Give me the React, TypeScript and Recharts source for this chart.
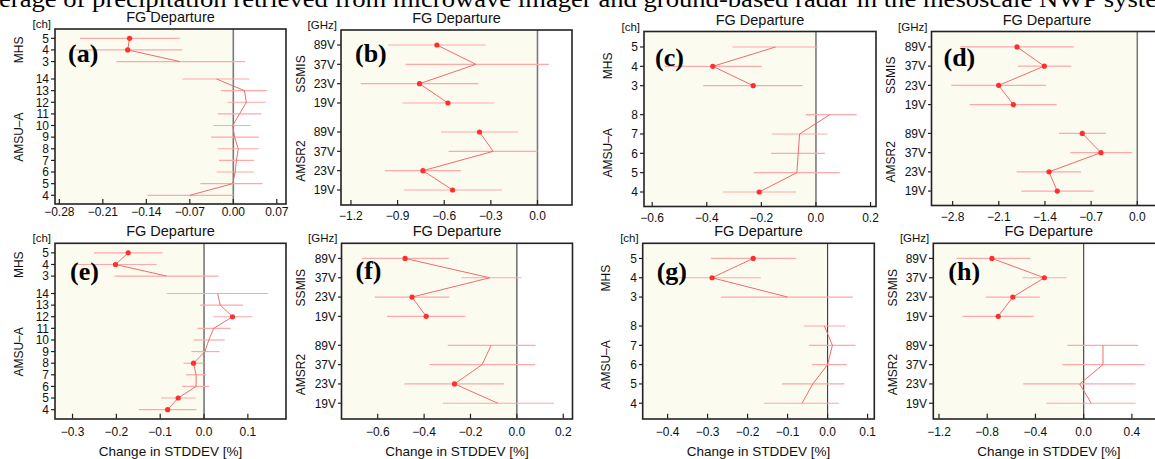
import React from 'react';
import { ScatterChart, Scatter, XAxis, YAxis, ErrorBar, ReferenceArea, ReferenceLine } from 'recharts';

const SANS = '"Liberation Sans", Arial, Helvetica, sans-serif';
const SERIF = '"Liberation Serif", "Times New Roman", serif';

const PAGE_TITLE = 'erage of precipitation retrieved from microwave imager and ground-based radar in the mesoscale NWP syste';
const PANEL_TITLE = 'FG Departure';
const X_LABEL = 'Change in STDDEV [%]';

// channel / frequency labels (top-to-bottom order as displayed)
const MHS_CH = ['5', '4', '3'];
const AMSUA_CH_ALL = ['14', '13', '12', '11', '10', '9', '8', '7', '6', '5', '4'];
const AMSUA_CH_LOW = ['8', '7', '6', '5', '4'];
const MW_FREQ = ['89V', '37V', '23V', '19V'];

// ---- (a) ----
const aMhsVal = [-0.167, -0.17, -0.086];
const aMhsLo = [-0.247, -0.255, -0.188];
const aMhsHi = [-0.086, -0.082, 0.019];
const aMhsSig = [1, 1, 0];
const aAmsuVal = [-0.027, 0.018, 0.021, 0.01, -0.001, 0.002, 0.008, 0.005, 0.003, -0.001, -0.07];
const aAmsuLo = [-0.082, -0.02, -0.009, -0.025, -0.032, -0.036, -0.025, -0.023, -0.027, -0.053, -0.138];
const aAmsuHi = [0.026, 0.054, 0.052, 0.045, 0.028, 0.041, 0.041, 0.033, 0.033, 0.047, 0.0];
const aAmsuSig = [0, 0, 0, 0, 0, 0, 0, 0, 0, 0, 0];
const aTicks = [-0.28, -0.21, -0.14, -0.07, 0, 0.07];

// ---- (b) ----
const bSsmisVal = [-0.647, -0.396, -0.759, -0.576];
const bSsmisLo = [-0.96, -0.849, -1.136, -0.868];
const bSsmisHi = [-0.334, 0.073, -0.379, -0.281];
const bSsmisSig = [1, 0, 1, 1];
const bAmsr2Val = [-0.373, -0.285, -0.737, -0.546];
const bAmsr2Lo = [-0.621, -0.572, -0.981, -0.859];
const bAmsr2Hi = [-0.124, 0.0, -0.493, -0.227];
const bAmsr2Sig = [1, 0, 1, 1];
const bTicks = [-1.2, -0.9, -0.6, -0.3, 0];

// ---- (c) ----
const cMhsVal = [-0.148, -0.378, -0.23];
const cMhsLo = [-0.306, -0.554, -0.413];
const cMhsHi = [0.007, -0.198, -0.049];
const cMhsSig = [0, 1, 1];
const cAmsuVal = [0.051, -0.06, -0.065, -0.07, -0.208];
const cAmsuLo = [-0.037, -0.161, -0.164, -0.227, -0.342];
const cAmsuHi = [0.149, 0.042, 0.033, 0.087, -0.073];
const cAmsuSig = [0, 0, 0, 0, 1];
const cTicks = [-0.6, -0.4, -0.2, 0, 0.2];

// ---- (d) ----
const dSsmisVal = [-1.824, -1.41, -2.102, -1.88];
const dSsmisLo = [-2.683, -1.809, -2.82, -2.542];
const dSsmisHi = [-0.965, -1.0, -1.385, -1.223];
const dSsmisSig = [1, 1, 1, 1];
const dAmsr2Val = [-0.834, -0.551, -1.339, -1.213];
const dAmsr2Lo = [-1.187, -1.016, -1.829, -1.758];
const dAmsr2Hi = [-0.475, -0.081, -0.854, -0.662];
const dAmsr2Sig = [1, 1, 1, 1];
const dTicks = [-2.8, -2.1, -1.4, -0.7, 0];

// ---- (e) ----
const eMhsVal = [-0.173, -0.202, -0.085];
const eMhsLo = [-0.251, -0.293, -0.204];
const eMhsHi = [-0.095, -0.108, 0.033];
const eMhsSig = [1, 1, 0];
const eAmsuVal = [0.031, 0.037, 0.065, 0.022, 0.011, 0.002, -0.024, -0.018, -0.018, -0.059, -0.083];
const eAmsuLo = [-0.085, -0.009, 0.021, -0.015, -0.024, -0.029, -0.047, -0.041, -0.05, -0.098, -0.149];
const eAmsuHi = [0.146, 0.089, 0.11, 0.061, 0.047, 0.035, -0.001, 0.005, 0.012, -0.019, -0.017];
const eAmsuSig = [0, 0, 1, 0, 0, 0, 1, 0, 0, 1, 1];
const eTicks = [-0.3, -0.2, -0.1, 0, 0.1];

// ---- (f) ----
const fSsmisVal = [-0.482, -0.117, -0.452, -0.391];
const fSsmisLo = [-0.668, -0.239, -0.613, -0.56];
const fSsmisHi = [-0.294, 0.02, -0.291, -0.222];
const fSsmisSig = [1, 0, 1, 1];
const fAmsr2Val = [-0.111, -0.15, -0.269, -0.082];
const fAmsr2Lo = [-0.298, -0.377, -0.485, -0.319];
const fAmsr2Hi = [0.081, 0.079, -0.055, 0.16];
const fAmsr2Sig = [0, 0, 1, 0];
const fTicks = [-0.6, -0.4, -0.2, 0, 0.2];

// ---- (g) ----
const gMhsVal = [-0.186, -0.289, -0.1];
const gMhsLo = [-0.292, -0.387, -0.266];
const gMhsHi = [-0.079, -0.167, 0.063];
const gMhsSig = [1, 1, 0];
const gAmsuVal = [-0.008, 0.012, 0.0, -0.037, -0.064];
const gAmsuLo = [-0.059, -0.046, -0.039, -0.114, -0.159];
const gAmsuHi = [0.044, 0.07, 0.048, 0.042, 0.029];
const gAmsuSig = [0, 0, 0, 0, 0];
const gTicks = [-0.4, -0.3, -0.2, -0.1, 0, 0.1];

// ---- (h) ----
const hSsmisVal = [-0.761, -0.326, -0.588, -0.709];
const hSsmisLo = [-1.054, -0.508, -0.811, -1.004];
const hSsmisHi = [-0.441, -0.141, -0.364, -0.414];
const hSsmisSig = [1, 1, 1, 1];
const hAmsr2Val = [0.16, 0.16, -0.033, 0.063];
const hAmsr2Lo = [-0.135, -0.177, -0.502, -0.309];
const hAmsr2Hi = [0.452, 0.505, 0.43, 0.43];
const hAmsr2Sig = [0, 0, 0, 0];
const hTicks = [-1.2, -0.8, -0.4, 0, 0.4];

type Group = { name: string; labels: string[]; val: number[]; lo: number[]; hi: number[]; sig: number[] };
type Panel = {
  id: string;
  unit: string;
  groups: Group[];
  frame: { l: number; t: number; w: number; h: number };
  xDomain: [number, number];
  xTicks: number[];
  decimals: number;
  yPad: [number, number];
  tickDy: number;
  letter: [number, number];
  groupDx: number;
  bottom: boolean;
};

const PANELS: Panel[] = [
  {
    id: 'a', unit: '[ch]',
    groups: [
      { name: 'MHS', labels: MHS_CH, val: aMhsVal, lo: aMhsLo, hi: aMhsHi, sig: aMhsSig },
      { name: 'AMSU–A', labels: AMSUA_CH_ALL, val: aAmsuVal, lo: aAmsuLo, hi: aAmsuHi, sig: aAmsuSig },
    ],
    frame: { l: 55, t: 29, w: 231, h: 175 }, xDomain: [-0.287, 0.0848], xTicks: aTicks, decimals: 2,
    yPad: [0.75, 0.8], tickDy: 12, letter: [13, 33], groupDx: 37, bottom: false,
  },
  {
    id: 'b', unit: '[GHz]',
    groups: [
      { name: 'SSMIS', labels: MW_FREQ, val: bSsmisVal, lo: bSsmisLo, hi: bSsmisHi, sig: bSsmisSig },
      { name: 'AMSR2', labels: MW_FREQ, val: bAmsr2Val, lo: bAmsr2Lo, hi: bAmsr2Hi, sig: bAmsr2Sig },
    ],
    frame: { l: 341, t: 30, w: 231, h: 175 }, xDomain: [-1.264, 0.222], xTicks: bTicks, decimals: 1,
    yPad: [0.776, 0.776], tickDy: 15, letter: [14, 32], groupDx: 41, bottom: false,
  },
  {
    id: 'c', unit: '[ch]',
    groups: [
      { name: 'MHS', labels: MHS_CH, val: cMhsVal, lo: cMhsLo, hi: cMhsHi, sig: cMhsSig },
      { name: 'AMSU–A', labels: AMSUA_CH_LOW, val: cAmsuVal, lo: cAmsuLo, hi: cAmsuHi, sig: cAmsuSig },
    ],
    frame: { l: 644, t: 31.5, w: 232, h: 175 }, xDomain: [-0.63, 0.22], xTicks: cTicks, decimals: 1,
    yPad: [0.776, 0.776], tickDy: 14.5, letter: [11, 34], groupDx: 37, bottom: false,
  },
  {
    id: 'd', unit: '[GHz]',
    groups: [
      { name: 'SSMIS', labels: MW_FREQ, val: dSsmisVal, lo: dSsmisLo, hi: dSsmisHi, sig: dSsmisSig },
      { name: 'AMSR2', labels: MW_FREQ, val: dAmsr2Val, lo: dAmsr2Lo, hi: dAmsr2Hi, sig: dAmsr2Sig },
    ],
    frame: { l: 931.5, t: 31.5, w: 231, h: 174 }, xDomain: [-3.113, 0.39], xTicks: dTicks, decimals: 1,
    yPad: [0.776, 0.776], tickDy: 15, letter: [12, 34], groupDx: 41, bottom: false,
  },
  {
    id: 'e', unit: '[ch]',
    groups: [
      { name: 'MHS', labels: MHS_CH, val: eMhsVal, lo: eMhsLo, hi: eMhsHi, sig: eMhsSig },
      { name: 'AMSU–A', labels: AMSUA_CH_ALL, val: eAmsuVal, lo: eAmsuLo, hi: eAmsuHi, sig: eAmsuSig },
    ],
    frame: { l: 55, t: 243.3, w: 231, h: 175.7 }, xDomain: [-0.34, 0.187], xTicks: eTicks, decimals: 1,
    yPad: [0.78, 0.85], tickDy: 17, letter: [15, 37], groupDx: 37, bottom: true,
  },
  {
    id: 'f', unit: '[GHz]',
    groups: [
      { name: 'SSMIS', labels: MW_FREQ, val: fSsmisVal, lo: fSsmisLo, hi: fSsmisHi, sig: fSsmisSig },
      { name: 'AMSR2', labels: MW_FREQ, val: fAmsr2Val, lo: fAmsr2Lo, hi: fAmsr2Hi, sig: fAmsr2Sig },
    ],
    frame: { l: 341.5, t: 243.3, w: 231, h: 175.7 }, xDomain: [-0.754, 0.242], xTicks: fTicks, decimals: 1,
    yPad: [0.8, 0.8], tickDy: 17, letter: [14, 36], groupDx: 41, bottom: true,
  },
  {
    id: 'g', unit: '[ch]',
    groups: [
      { name: 'MHS', labels: MHS_CH, val: gMhsVal, lo: gMhsLo, hi: gMhsHi, sig: gMhsSig },
      { name: 'AMSU–A', labels: AMSUA_CH_LOW, val: gAmsuVal, lo: gAmsuLo, hi: gAmsuHi, sig: gAmsuSig },
    ],
    frame: { l: 642.7, t: 243.3, w: 231.6, h: 175.7 }, xDomain: [-0.4615, 0.1175], xTicks: gTicks, decimals: 1,
    yPad: [0.8, 0.8], tickDy: 17, letter: [14, 37], groupDx: 37, bottom: true,
  },
  {
    id: 'h', unit: '[GHz]',
    groups: [
      { name: 'SSMIS', labels: MW_FREQ, val: hSsmisVal, lo: hSsmisLo, hi: hSsmisHi, sig: hSsmisSig },
      { name: 'AMSR2', labels: MW_FREQ, val: hAmsr2Val, lo: hAmsr2Lo, hi: hAmsr2Hi, sig: hAmsr2Sig },
    ],
    frame: { l: 933.3, t: 243.3, w: 231, h: 175.7 }, xDomain: [-1.2496, 0.666], xTicks: hTicks, decimals: 1,
    yPad: [0.8, 0.8], tickDy: 17, letter: [15, 37], groupDx: 41, bottom: true,
  },
];

type Row = { label: string; x: number; y: number; ex: [number, number]; sig: number };

function layout(groups: Group[]) {
  let pos = 0;
  const out: { name: string; rows: Row[]; center: number }[] = [];
  for (let gi = groups.length - 1; gi >= 0; gi--) {
    const g = groups[gi];
    const n = g.labels.length;
    const rows: Row[] = g.labels.map((lab, i) => ({
      label: lab,
      y: pos + (n - 1 - i),
      x: g.val[i],
      ex: [g.val[i] - g.lo[i], g.hi[i] - g.val[i]],
      sig: g.sig[i],
    }));
    out.unshift({ name: g.name, rows, center: pos + (n - 1) / 2 });
    pos += n - 1 + 1.5;
  }
  return out;
}

const fmtTick = (v: number, d: number) => (v < -1e-9 ? '\u2212' : '') + Math.abs(v).toFixed(d);

const Empty = () => <g />;
const Dot = (props: any) => <circle cx={props.cx} cy={props.cy} r={2.6} fill="#ff2f2f" />;

const YW = 48;
const XH = 34;
const MR = 24;

function PanelChart({ p }: { p: Panel }) {
  const groups = layout(p.groups);
  const rows = groups.flatMap((g) => g.rows);
  const maxY = Math.max(...rows.map((r) => r.y));
  const yDomain: [number, number] = [-p.yPad[0], maxY + p.yPad[1]];
  const labelMap = new Map(rows.map((r) => [r.y.toFixed(2), r.label]));
  const { l, t, w, h } = p.frame;
  const zeroStroke = p.bottom ? '#3a3a3a' : '#7a7a7a';
  const zeroWidth = p.bottom ? 1.1 : 1.6;
  return (
    <div style={{ position: 'absolute', left: l - YW, top: t, width: w + YW + MR, height: h + XH }}>
      <ScatterChart width={w + YW + MR} height={h + XH} margin={{ top: 0, right: MR, bottom: 0, left: 0 }}>
        <XAxis
          type="number"
          dataKey="x"
          domain={p.xDomain}
          allowDataOverflow
          ticks={p.xTicks}
          interval={0}
          height={XH}
          axisLine={false}
          tickLine={false}
          tickSize={0}
          tickMargin={0}
          tick={(tp: any) => (
            <g>
              <line x1={tp.x} x2={tp.x} y1={tp.y} y2={tp.y - 5} stroke="#222" strokeWidth={1.2} />
              <text x={tp.x} y={tp.y + p.tickDy} textAnchor="middle" fontSize={12} fontFamily={SANS} fill="#111">
                {fmtTick(tp.payload.value, p.decimals)}
              </text>
            </g>
          )}
        />
        <YAxis
          type="number"
          dataKey="y"
          domain={yDomain}
          allowDataOverflow
          ticks={rows.map((r) => r.y)}
          interval={0}
          width={YW}
          axisLine={false}
          tickLine={{ stroke: '#222', strokeWidth: 1.2 }}
          tickSize={4}
          tickMargin={2}
          tickFormatter={(v: number) => labelMap.get(Number(v).toFixed(2)) ?? ''}
          tick={{ fontSize: 12, fill: '#111', fontFamily: SANS }}
        />
        <ReferenceArea x1={p.xDomain[0]} x2={0} fill="#fcfbf0" fillOpacity={1} stroke="none" />
        <ReferenceLine x={0} stroke={zeroStroke} strokeWidth={zeroWidth} />
        <Scatter data={rows} shape={Empty} isAnimationActive={false}>
          <ErrorBar dataKey="ex" direction="x" width={0} stroke="#ffa8a8" strokeWidth={1.2} />
        </Scatter>
        {groups.map((g) => (
          <Scatter
            key={g.name}
            data={g.rows}
            line={{ stroke: '#f26a6a', strokeWidth: 1 }}
            shape={Empty}
            isAnimationActive={false}
          />
        ))}
        <Scatter data={rows.filter((r) => r.sig)} shape={Dot} isAnimationActive={false} />
      </ScatterChart>
    </div>
  );
}

function Overlay() {
  return (
    <svg width={1155} height={459} style={{ position: 'absolute', left: 0, top: 0, pointerEvents: 'none' }}>
      <text x={-1} y={6.5} fontSize={24} fontFamily={SERIF} fill="#000" textLength={1158} lengthAdjust="spacingAndGlyphs">
        {PAGE_TITLE}
      </text>
      {PANELS.map((p) => {
        const { l, t, w, h } = p.frame;
        const groups = layout(p.groups);
        const maxY = Math.max(...groups.flatMap((g) => g.rows.map((r) => r.y)));
        const y0 = -p.yPad[0];
        const y1 = maxY + p.yPad[1];
        const sy = (v: number) => t + (h * (y1 - v)) / (y1 - y0);
        return (
          <g key={p.id}>
            <rect x={l} y={t} width={w} height={h} fill="none" stroke="#222" strokeWidth={1.6} />
            <text x={l + w / 2} y={t - 7} textAnchor="middle" fontSize={14.5} fontFamily={SANS} fill="#111">
              {PANEL_TITLE}
            </text>
            <text x={l - 4} y={t - 1} textAnchor="end" fontSize={11.5} fontFamily={SANS} fill="#111">
              {p.unit}
            </text>
            {groups.map((g) => (
              <text
                key={g.name}
                transform={`translate(${l - p.groupDx + 4.5}, ${sy(g.center)}) rotate(-90)`}
                textAnchor="middle"
                fontSize={12}
                fontFamily={SANS}
                fill="#111"
              >
                {g.name}
              </text>
            ))}
            <text x={l + p.letter[0]} y={t + p.letter[1]} fontSize={26} fontWeight="bold" fontFamily={SERIF} fill="#000">
              {`(${p.id})`}
            </text>
            {p.bottom && (
              <text x={l + w / 2} y={456} textAnchor="middle" fontSize={13.5} fontFamily={SANS} fill="#111">
                {X_LABEL}
              </text>
            )}
          </g>
        );
      })}
    </svg>
  );
}

export default function App() {
  return (
    <div style={{ position: 'absolute', left: 0, top: 0, width: 1155, height: 459, overflow: 'hidden', background: '#fff' }}>
      {PANELS.map((p) => (
        <PanelChart key={p.id} p={p} />
      ))}
      <Overlay />
    </div>
  );
}
